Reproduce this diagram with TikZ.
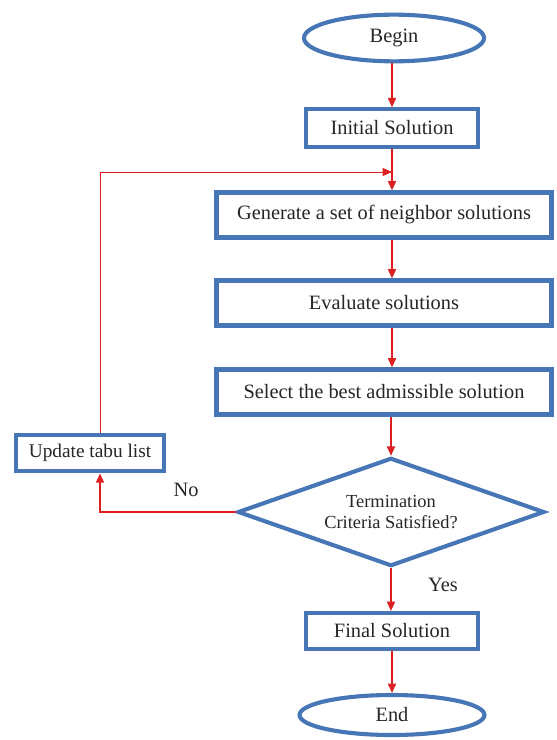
\documentclass[tikz,border=0pt]{standalone}
\usepackage{fontspec}
\setmainfont{Liberation Serif}
\usetikzlibrary{positioning, arrows.meta, shapes.geometric, calc}
\definecolor{BoxBlue}{RGB}{70,118,181}
\definecolor{FlowRed}{RGB}{218,32,32}

\begin{document}
\begin{tikzpicture}[x=0.03cm, y=0.03cm, font=\fontsize{17.4}{21}\selectfont, text=black!85,
    stepbox/.style={rectangle, draw=BoxBlue, line width=3.5pt, fill=white, minimum height=1.35cm},
    terminal/.style={ellipse, draw=BoxBlue, line width=3.5pt, fill=white},
    decision/.style={diamond, draw=BoxBlue, line width=3.5pt, aspect=2.8, inner sep=0pt, align=center, minimum width=9.2cm, minimum height=3.25cm, font=\fontsize{15.7}{18.7}\selectfont},
    flow/.style={-{Triangle[width=0.24cm, length=0.28cm]}, line width=1.5pt, FlowRed},
    back/.style={-{Triangle[width=0.24cm, length=0.28cm]}, line width=0.7pt, FlowRed}]
    \useasboundingbox (0,0) rectangle (556,-740);
    % Nodos
    \node[terminal, minimum width=5.4cm, minimum height=1.4cm] (begin) at (394,-38) {Begin};
    \node[stepbox, minimum width=5.15cm, minimum height=1.12cm] (init) at (392,-128) {Initial Solution};
    \node[stepbox, minimum width=10.05cm] (gen) at (384,-215) {Generate a set of neighbor solutions};
    \node[stepbox, minimum width=10.05cm] (eval) at (384,-303) {Evaluate solutions};
    \node[stepbox, minimum width=10.05cm] (select) at (384,-392) {Select the best admissible solution};
    \node[decision] (term) at (391,-512) {Termination\\Criteria Satisfied?};
    \node[stepbox, minimum width=4.45cm, minimum height=1.1cm, font=\fontsize{16.5}{19}\selectfont] (update) at (90,-453) {Update tabu list};
    \node[stepbox, minimum width=5.15cm, minimum height=1.08cm] (final) at (392,-631) {Final Solution};
    \node[terminal, minimum width=5.55cm, minimum height=1.2cm] (end) at (392,-715) {End};

    % Conexiones
    \coordinate (join) at (392,-172);
    \coordinate (upout) at ([xshift=0.3cm]update.north);
    \coordinate (upin) at ([xshift=0.3cm]update.south);
    \draw[flow] (begin.south -| init.north) -- (init.north);
    \draw[flow] (init.south) -- (gen.north -| init.south);
    \draw[back] (upout) |- (join);
    \draw[flow] (gen.south -| init.south) -- (eval.north -| init.south);
    \draw[flow] (eval.south -| init.south) -- (select.north -| init.south);
    \draw[flow] (select.south -| term.north) -- (term.north);
    \draw[flow] (term.west) -| (upin);
    \draw[flow] (term.south) -- (final.north -| term.south);
    \draw[flow] (final.south) -- (end.north -| final.south);

    % Etiquetas
    \node (nolbl) at (186,-490) {No};
    \node (yeslbl) at (443,-585) {Yes};
\end{tikzpicture}
\end{document}
